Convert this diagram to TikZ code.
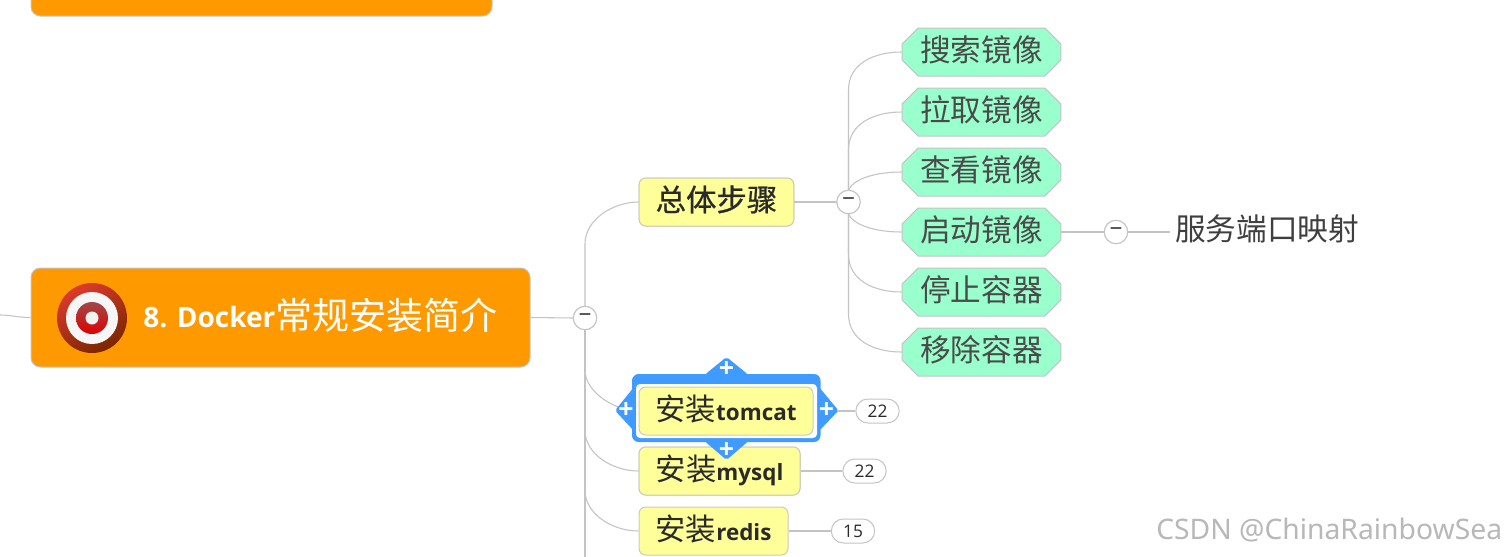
\documentclass[tikz,border=0pt]{standalone}
\usepackage{fontspec}
\usetikzlibrary{shapes.misc,calc}
\setmainfont{Open Sans}
\newfontfamily\cjk{Noto Sans CJK SC}
\newfontfamily\cjkb[FakeBold=0.7]{Noto Sans CJK SC}
\newfontfamily\latb{Open Sans}
\newfontfamily\wm{Noto Sans}
\definecolor{lineg}{HTML}{C4C4C4}
\definecolor{borderg}{HTML}{CCCCBB}
\definecolor{yel}{HTML}{FFFF99}
\definecolor{teal1}{HTML}{99FFCC}
\definecolor{orng}{HTML}{FF9900}
\definecolor{selblue}{HTML}{3F9BFF}
\definecolor{ink}{HTML}{2A2A2A}
\definecolor{ringA}{HTML}{DC3A2C}
\definecolor{ringB}{HTML}{BE0C00}
\definecolor{ringC}{HTML}{7A2600}
\definecolor{coreA}{HTML}{A04848}
\definecolor{coreB}{HTML}{E00000}
\newcommand{\zh}[1]{\raisebox{\dimexpr-0.38em+1.9pt}[0pt][0pt]{\cjk #1}}
\newcommand{\zhb}[1]{\raisebox{\dimexpr-0.38em+1.9pt}[0pt][0pt]{\cjkb #1}}
\newcommand{\lat}[1]{\raisebox{-7.4pt}[0pt][0pt]{\fontsize{16.8pt}{20pt}\latb\bfseries #1}}
\tikzset{
  conn/.style={draw=lineg,line width=0.8pt},
  yelbox/.style={draw=borderg,fill=yel,rounded corners=5pt,line width=0.75pt,inner sep=0pt,minimum height=36pt,text=ink,font=\fontsize{22.8pt}{24pt}\selectfont},
  tealbox/.style={chamfered rectangle,chamfered rectangle xsep=6pt,chamfered rectangle ysep=6pt,draw=lineg,fill=teal1,line width=0.75pt,inner sep=0pt,minimum width=119pt,minimum height=36pt,text=ink!85,font=\fontsize{23pt}{24pt}\selectfont,execute at begin node={\rule[-12pt]{0pt}{24pt}}},
  orbox/.style={draw=lineg,fill=orng,rounded corners=7pt,line width=0.75pt,inner sep=0pt},
  hubc/.style={circle,draw=lineg,fill=white,line width=0.75pt,minimum size=17.5pt,inner sep=0pt,text=ink,font=\fontsize{17pt}{17pt}\selectfont},
  pill/.style={rounded rectangle,draw=lineg,fill=white,line width=0.75pt,minimum width=32.5pt,minimum height=18pt,inner sep=0pt,text=ink,font=\fontsize{13pt}{14pt}\selectfont},
  plusn/.style={inner sep=0pt,text=white,font=\fontsize{20pt}{20pt}\latb\bfseries},
}
\begin{document}
\begin{tikzpicture}[x=0.75pt,y=-0.75pt]
\clip (0,0) rectangle (1504,557);
\fill[white] (0,0) rectangle (1504,557);
% top orange box and main box
\node[orbox,minimum width=345.75pt,minimum height=75pt] (top) at (261.5,-34) {};
\node[orbox,minimum width=374.25pt,minimum height=74.25pt] (main) at (280.5,317.5) {};
\coordinate (offL) at (0,315);
\coordinate (offB) at (585,557);
% hubs
\node[hubc] (hubA) at (585,318) {−};
\node[hubc] (hubB) at (848.5,202) {−};
\node[hubc] (hubC) at (1116,232) {−};
% level 2
\node[yelbox,minimum width=116pt] (steps) at (716.5,202) {\zhb{总体步骤}};
\node[yelbox,minimum width=120.75pt] (mysql) at (719.5,471) {\zh{安装}\lat{mysql}};
\node[yelbox,minimum width=111.75pt] (redis) at (713.5,531) {\zh{安装}\lat{redis}};
% level 3
\node[tealbox] (s1) at (981.5,52) {\zh{搜索镜像}};
\node[tealbox] (s2) at (981.5,112) {\zh{拉取镜像}};
\node[tealbox] (s3) at (981.5,172) {\zh{查看镜像}};
\node[tealbox] (s4) at (981.5,232) {\zh{启动镜像}};
\node[tealbox] (s5) at (981.5,292) {\zh{停止容器}};
\node[tealbox] (s6) at (981.5,352) {\zh{移除容器}};
\node[inner sep=0pt,text=ink!90,font=\fontsize{23pt}{24pt}\selectfont,anchor=west] (map) at (1175,231.5) {\zh{服务端口映射}};
\coordinate (mapEnd) at (1170,232);
% badges
\node[pill] (b1) at (877.5,411) {22};
\node[pill] (b2) at (864.5,471) {22};
\node[pill] (b3) at (853,531) {15};
\coordinate (tomW) at (639,411);
\coordinate (tomE) at (813,411);
% connectors
\draw[conn] (offL) .. controls +(12,0) and +(-14,0) .. (main.west);
\draw[conn] (main.east) -- (hubA.west);
\draw[conn] (hubA.north) -- ++(0,-62) .. controls +(0,-24) and +(-26,0) .. (steps.west);
\draw[conn] (hubA.south) -- (offB);
\draw[conn] (hubA.south) ++(0,40) .. controls +(0,22) and +(-24,0) .. (tomW);
\draw[conn] (hubA.south) ++(0,100) .. controls +(0,24) and +(-26,0) .. (mysql.west);
\draw[conn] (hubA.south) ++(0,160) .. controls +(0,24) and +(-26,0) .. (redis.west);
\draw[conn] (steps.east) -- (hubB.west);
\draw[conn] (hubB.north) -- ++(0,-100) .. controls +(0,-26) and +(-28,0) .. (s1.west);
\draw[conn] (hubB.north) -- ++(0,-40) .. controls +(0,-26) and +(-28,0) .. (s2.west);
\draw[conn] (hubB.north) .. controls +(6,-12) and +(-24,0) .. (s3.west);
\draw[conn] (hubB.south) .. controls +(6,12) and +(-24,0) .. (s4.west);
\draw[conn] (hubB.south) -- ++(0,40) .. controls +(0,26) and +(-28,0) .. (s5.west);
\draw[conn] (hubB.south) -- ++(0,100) .. controls +(0,26) and +(-28,0) .. (s6.west);
\draw[conn] (s4.east) -- (hubC.west);
\draw[conn] (hubC.east) -- (mapEnd);
\draw[conn] (tomE) -- (b1.west);
\draw[conn] (mysql.east) -- (b2.west);
\draw[conn] (redis.east) -- (b3.west);
% redraw on top of connectors
\node[hubc] at (hubA) {−};
\node[hubc] at (hubB) {−};
\node[hubc] at (hubC) {−};
\node[yelbox,minimum width=116pt] at (steps) {\zhb{总体步骤}};
\node[yelbox,minimum width=120.75pt] at (mysql) {\zh{安装}\lat{mysql}};
% selection frame
\fill[selblue,rounded corners=5pt] (632,374) rectangle (820.5,442);
\fill[selblue,rounded corners=1.5pt] (726.5,357) -- (748,374.5) -- (705,374.5) -- cycle;
\fill[selblue,rounded corners=1.5pt] (726.5,460) -- (748,441.5) -- (705,441.5) -- cycle;
\fill[selblue,rounded corners=1.5pt] (615,410.5) -- (634,387) -- (634,431) -- cycle;
\fill[selblue,rounded corners=1.5pt] (838.5,410.5) -- (819,387) -- (819,431) -- cycle;
\fill[white,rounded corners=3pt] (636,384) rectangle (817,438);
\node[yelbox,minimum width=130.5pt] (tomcat) at (726,411) {\zh{安装}\lat{tomcat}};
\node[plusn] (pT) at (726.5,370) {+};
\node[plusn] (pB) at (726.5,450.5) {+};
\node[plusn] (pL) at (626,410.5) {+};
\node[plusn] (pR) at (826.5,410.5) {+};
% main text and icon
\node[inner sep=0pt,anchor=west,text=white] (title) at (143,318) {{\raisebox{-6.8pt}[0pt][0pt]{\fontsize{21pt}{24pt}\latb\bfseries 8. Docker}}{\fontsize{27.8pt}{30pt}\selectfont\zh{常规安装简介}}};
\shade[top color=ringA,middle color=ringB,bottom color=ringC,shading angle=30] (92,318) circle (35);
\fill[white!93!gray] (92,318) circle (26);
\shade[top color=coreA,bottom color=coreB] (92,318) circle (16);
\fill[white!90!gray] (92,318) circle (6.5);
% watermark
\node[inner sep=0pt,anchor=west,text=black!28,font=\fontsize{21.2pt}{24pt}\wm] (wmark) at (1156,530) {CSDN @ChinaRainbowSea};
\end{tikzpicture}
\end{document}
